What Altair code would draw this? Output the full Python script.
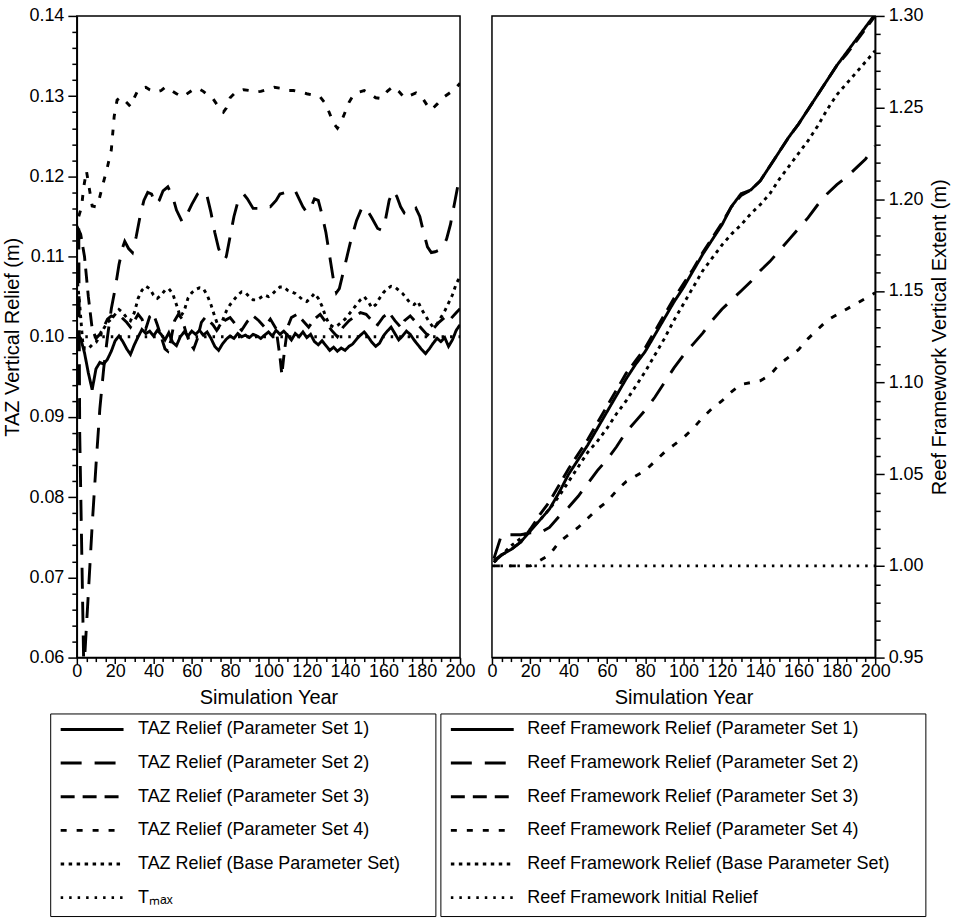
import altair as alt
import pandas as pd

FONT = "Liberation Sans"

# ---------------- LEFT PANEL: TAZ vertical relief ----------------
taz_names = [
    "TAZ Relief (Parameter Set 1)",
    "TAZ Relief (Parameter Set 2)",
    "TAZ Relief (Parameter Set 3)",
    "TAZ Relief (Parameter Set 4)",
    "TAZ Relief (Base Parameter Set)\u2800\u2800",
    "T\u2098\u2090\u2093",
]

taz1_years = list(range(0, 201, 2))
taz1_vals = [
    0.1003, 0.0998, 0.0980, 0.0955, 0.0934, 0.0960, 0.0968, 0.0966, 0.0972, 0.0982,
    0.0995, 0.1001, 0.0994, 0.0985, 0.0978, 0.0990, 0.1000, 0.1009, 0.1004, 0.1007,
    0.1001, 0.1008, 0.1003, 0.0996, 0.1005, 0.0993, 0.0989, 0.1000, 0.1006, 0.1001,
    0.1007, 0.1003, 0.1008, 0.1002, 0.1006, 0.0998, 0.0988, 0.0983, 0.0991, 0.0997,
    0.1001, 0.0998, 0.1004, 0.1000, 0.1002, 0.0999, 0.1003, 0.1001, 0.0998, 0.1002,
    0.1006, 0.1001, 0.1008, 0.1003, 0.1007, 0.1002, 0.0996, 0.1004, 0.1000, 0.1006,
    0.0999, 0.1003, 0.0994, 0.0990, 0.0995, 0.0989, 0.0983, 0.0987, 0.0982, 0.0986,
    0.0983, 0.0988, 0.0991, 0.0997, 0.1002, 0.1006, 0.1000, 0.0993, 0.0988, 0.0992,
    0.1001, 0.1007, 0.1012, 0.1004, 0.0996, 0.1001, 0.1007, 0.1003, 0.0996, 0.0990,
    0.0984, 0.0979, 0.0985, 0.0992, 0.0998, 0.0994, 0.0999, 0.0988, 0.0996, 0.1008,
    0.1015,
]

taz2_years = [
    1, 1.5, 3.7, 4.2, 6, 8, 10, 12, 14, 16,
    18, 20, 22, 24, 25, 27, 29, 31, 33, 35,
    37, 39, 41, 43, 45, 47.5, 50, 52, 55, 57,
    60, 63, 66, 68, 70, 72, 74, 76, 77, 78,
    80, 82, 84, 87, 89, 92, 95, 98, 101, 104,
    106, 109, 112, 114, 116, 118, 120, 122, 124, 126,
    128, 130, 132, 134, 135.5, 137, 139, 141, 143, 146,
    149, 151, 154, 157, 159, 161, 163, 165, 167, 169,
    171, 174, 177, 179, 181, 183, 185, 187, 189, 191,
    193, 195, 197, 199, 200,
]
taz2_vals = [
    0.1135, 0.0880, 0.0575, 0.0605, 0.0680, 0.0765, 0.0840, 0.0910, 0.0960, 0.1000,
    0.1035, 0.1060, 0.1090, 0.1112, 0.1119, 0.1110, 0.1105, 0.1125, 0.1150, 0.1170,
    0.1180, 0.1178, 0.1165, 0.1170, 0.1182, 0.1187, 0.1175, 0.1158, 0.1143, 0.1150,
    0.1165, 0.1178, 0.1182, 0.1175, 0.1155, 0.1130, 0.1110, 0.1098, 0.1096, 0.1100,
    0.1125, 0.1150, 0.1168, 0.1178, 0.1172, 0.1160, 0.1160, 0.1163, 0.1162, 0.1170,
    0.1178, 0.1180, 0.1183, 0.1182, 0.1172, 0.1162, 0.1155, 0.1160, 0.1172, 0.1170,
    0.1152, 0.1130, 0.1100, 0.1070, 0.1055, 0.1060, 0.1080, 0.1100, 0.1120, 0.1145,
    0.1162, 0.1160, 0.1148, 0.1135, 0.1133, 0.1145, 0.1170, 0.1182, 0.1175, 0.1162,
    0.1154, 0.1152, 0.1160, 0.1150, 0.1130, 0.1112, 0.1105, 0.1106, 0.1108, 0.1112,
    0.1122, 0.1140, 0.1165, 0.1190, 0.1200,
]

taz3_years = [
    0, 2, 4, 6, 8, 10, 12, 14, 16, 18,
    20, 23, 26, 28, 30, 32, 34, 36, 38, 40,
    42, 44, 46, 47.5, 49, 51, 53, 55, 57, 59,
    61, 63, 65, 67, 69, 71, 73, 75, 77, 80,
    83, 86, 89, 92, 95, 98, 101, 104, 106, 107,
    108, 110, 112, 115, 118, 121, 124, 127, 130, 133,
    136, 139, 142, 145, 148, 151, 154, 157, 160, 163,
    166, 169, 171, 174, 177, 180, 183, 186, 189, 192,
    195, 198, 200,
]
taz3_vals = [
    0.1138, 0.1128, 0.1100, 0.1050, 0.1010, 0.0998, 0.1003, 0.1012, 0.1022, 0.1026,
    0.1024, 0.1025, 0.1018, 0.1012, 0.1020, 0.1028, 0.1022, 0.1010, 0.1025, 0.1028,
    0.1015, 0.1000, 0.0985, 0.0982, 0.0995, 0.1020, 0.1028, 0.1022, 0.1005, 0.0992,
    0.0985, 0.0998, 0.1018, 0.1024, 0.1020, 0.1015, 0.1008, 0.1015, 0.1020, 0.1024,
    0.1015, 0.1008, 0.1019, 0.1026, 0.1020, 0.1012, 0.1022, 0.1010, 0.0975, 0.0953,
    0.0975, 0.1012, 0.1024, 0.1028, 0.1020, 0.1012, 0.1022, 0.1028, 0.1018, 0.1008,
    0.1000, 0.1012, 0.1020, 0.1025, 0.1030, 0.1028, 0.1020, 0.1015, 0.1025, 0.1030,
    0.1020, 0.1012, 0.1020, 0.1026, 0.1018, 0.1010, 0.1002, 0.1010, 0.1018, 0.1024,
    0.1022, 0.1030, 0.1035,
]

taz4_years = [
    1, 2.5, 3.5, 5, 6.5, 8, 10, 11.5, 13.5, 16,
    18, 19.5, 21, 23, 26, 28, 30, 32, 34, 36,
    38, 41, 44, 46, 48, 50, 52, 55, 57, 60,
    63, 66, 69, 71, 73, 75, 76.5, 78, 80, 83,
    87, 90, 93, 96, 100, 103, 106, 110, 113, 117,
    120, 124, 127, 130, 132, 134, 136, 138, 140, 142,
    144, 147, 150, 153, 156, 159, 162, 165, 168, 171,
    174, 177, 180, 183, 185, 188, 191, 194, 197, 200,
]
taz4_vals = [
    0.1150, 0.1162, 0.1185, 0.1207, 0.1185, 0.1163, 0.1162, 0.1170, 0.1189, 0.1212,
    0.1233, 0.1275, 0.1295, 0.1299, 0.1292, 0.1287, 0.1298, 0.1308, 0.1310, 0.1311,
    0.1308, 0.1305, 0.1307, 0.1311, 0.1310, 0.1306, 0.1303, 0.1299, 0.1302, 0.1307,
    0.1310, 0.1306, 0.1300, 0.1297, 0.1290, 0.1283, 0.1280, 0.1285, 0.1298, 0.1305,
    0.1308, 0.1307, 0.1305, 0.1306, 0.1309, 0.1311, 0.1310, 0.1307, 0.1307, 0.1305,
    0.1303, 0.1301, 0.1299, 0.1290, 0.1278, 0.1266, 0.1260, 0.1268, 0.1280, 0.1292,
    0.1300, 0.1305, 0.1307, 0.1303, 0.1298, 0.1297, 0.1306, 0.1312, 0.1306, 0.1298,
    0.1301, 0.1304, 0.1299, 0.1288, 0.1283, 0.1290, 0.1298, 0.1303, 0.1308, 0.1316,
]

tazb_years = [0, 1.5, 3, 4] + list(range(6, 201, 2))
tazb_vals = [
    0.1077, 0.1040, 0.0995, 0.0985,
    0.0985, 0.0990, 0.0993, 0.1000, 0.1010, 0.1018, 0.1022, 0.1028, 0.1034, 0.1030,
    0.1024, 0.1020, 0.1030, 0.1048, 0.1058, 0.1063, 0.1060, 0.1052, 0.1048, 0.1052,
    0.1058, 0.1060, 0.1054, 0.1040, 0.1025, 0.1032, 0.1048, 0.1055, 0.1059, 0.1061,
    0.1060, 0.1052, 0.1040, 0.1025, 0.1012, 0.1020, 0.1032, 0.1040, 0.1046, 0.1052,
    0.1056, 0.1055, 0.1050, 0.1046, 0.1046, 0.1049, 0.1052, 0.1050, 0.1053, 0.1058,
    0.1062, 0.1062, 0.1058, 0.1056, 0.1054, 0.1050, 0.1046, 0.1044, 0.1048, 0.1054,
    0.1048, 0.1038, 0.1024, 0.1015, 0.1012, 0.1014, 0.1018, 0.1022, 0.1028, 0.1034,
    0.1040, 0.1046, 0.1050, 0.1044, 0.1036, 0.1040, 0.1048, 0.1055, 0.1060, 0.1063,
    0.1062, 0.1058, 0.1054, 0.1048, 0.1042, 0.1040, 0.1044, 0.1034, 0.1026, 0.1018,
    0.1012, 0.1016, 0.1024, 0.1032, 0.1042, 0.1052, 0.1066, 0.1075,
]

tmax_years = [0, 200]
tmax_vals = [0.100, 0.100]

# ---------------- RIGHT PANEL: reef framework vertical extent ----------------
reef_names = [
    "Reef Framework Relief (Parameter Set 1)",
    "Reef Framework Relief (Parameter Set 2)",
    "Reef Framework Relief (Parameter Set 3)",
    "Reef Framework Relief (Parameter Set 4)",
    "Reef Framework Relief (Base Parameter Set)\u2800\u2800",
    "Reef Framework Initial Relief",
]

reef_years = [1] + list(range(5, 201, 5))
reef1_vals = [
    1.002, 1.006, 1.009, 1.013, 1.019, 1.025, 1.031, 1.040, 1.050, 1.058,
    1.066, 1.075, 1.084, 1.093, 1.102, 1.110, 1.117, 1.126, 1.135, 1.144,
    1.152, 1.161, 1.170, 1.178, 1.186, 1.196, 1.203, 1.205, 1.210, 1.218,
    1.226, 1.234, 1.241, 1.249, 1.257, 1.265, 1.273, 1.280, 1.287, 1.294,
    1.301,
]
reef2_vals = [
    1.004, 1.017, 1.017, 1.017, 1.018, 1.018, 1.021, 1.027, 1.032, 1.038,
    1.045, 1.052, 1.058, 1.065, 1.073, 1.079, 1.085, 1.092, 1.100, 1.108,
    1.115, 1.121, 1.127, 1.134, 1.140, 1.145, 1.150, 1.155, 1.161, 1.166,
    1.172, 1.178, 1.184, 1.190, 1.197, 1.203, 1.208, 1.212, 1.217, 1.222,
    1.229,
]
reef3_vals = [
    1.003, 1.006, 1.009, 1.013, 1.020, 1.028, 1.035, 1.044, 1.053, 1.061,
    1.069, 1.078, 1.087, 1.096, 1.105, 1.112, 1.119, 1.128, 1.137, 1.146,
    1.154, 1.162, 1.171, 1.179, 1.187, 1.196, 1.202, 1.205, 1.210, 1.218,
    1.226, 1.234, 1.241, 1.249, 1.257, 1.265, 1.273, 1.279, 1.286, 1.293,
    1.300,
]
reef4_vals = [
    1.000, 1.000, 1.000, 1.000, 1.000, 1.003, 1.006, 1.013, 1.017, 1.021,
    1.026, 1.031, 1.035, 1.041, 1.046, 1.049, 1.052, 1.057, 1.062, 1.066,
    1.070, 1.075, 1.081, 1.086, 1.090, 1.095, 1.099, 1.100, 1.101, 1.104,
    1.110, 1.114, 1.118, 1.124, 1.129, 1.134, 1.137, 1.140, 1.143, 1.146,
    1.149,
]
reefb_vals = [
    1.002, 1.006, 1.011, 1.015, 1.020, 1.025, 1.031, 1.038, 1.046, 1.054,
    1.062, 1.068, 1.075, 1.083, 1.090, 1.098, 1.106, 1.115, 1.124, 1.134,
    1.143, 1.152, 1.161, 1.168, 1.175, 1.181, 1.186, 1.192, 1.197, 1.203,
    1.211, 1.218, 1.225, 1.232, 1.240, 1.249, 1.257, 1.263, 1.269, 1.275,
    1.281,
]
init_years = [0, 200]
init_vals = [1.000, 1.000]

# ---------------- ticks ----------------
x_major = [0, 20, 40, 60, 80, 100, 120, 140, 160, 180, 200]
x_minor = [v for v in range(0, 201, 5) if v % 20]
taz_major = [0.06, 0.07, 0.08, 0.09, 0.10, 0.11, 0.12, 0.13, 0.14]
taz_minor = [round(0.06 + 0.002 * i, 3) for i in range(41) if i % 5]
reef_major = [0.95, 1.00, 1.05, 1.10, 1.15, 1.20, 1.25, 1.30]
reef_minor = [round(0.95 + 0.01 * i, 2) for i in range(36) if i % 5]

# line styles (same order as the series names)
dash_styles = [[1, 0], [21, 13], [14, 8], [6, 10], [3.5, 4.5], [2.5, 6]]
width_styles = [2.9, 2.9, 2.9, 2.9, 3.8, 2.0]


def long_df(names, series):
    rows = []
    for name, (xs, ys) in zip(names, series):
        assert len(xs) == len(ys), name
        rows += [{"year": x, "value": y, "series": name} for x, y in zip(xs, ys)]
    return pd.DataFrame(rows)


taz_df = long_df(taz_names, [
    (taz1_years, taz1_vals), (taz2_years, taz2_vals), (taz3_years, taz3_vals),
    (taz4_years, taz4_vals), (tazb_years, tazb_vals), (tmax_years, tmax_vals),
])
reef_df = long_df(reef_names, [
    (reef_years, reef1_vals), (reef_years, reef2_vals), (reef_years, reef3_vals),
    (reef_years, reef4_vals), (reef_years, reefb_vals), (init_years, init_vals),
])

W, H = 384, 643


def panel(df, names, ydom, ymaj, ymin, yorient, ytitle, lx, ly, loff, tbase):
    xscale = alt.Scale(domain=[0, 200], nice=False, zero=False)
    yscale = alt.Scale(domain=ydom, nice=False, zero=False)
    leg = alt.Legend(
        orient="none", legendX=lx, legendY=ly, title=None, direction="vertical",
        symbolType="stroke", symbolSize=3969, symbolStrokeColor="black",
        clipHeight=14, rowPadding=15.7, padding=9, labelOffset=loff,
        labelFont=FONT, labelFontSize=18, labelColor="black", labelLimit=800,
        strokeColor="black",
    )
    lines = alt.Chart(df).mark_line(color="black", clip=True).encode(
        x=alt.X("year:Q", scale=xscale, axis=alt.Axis(
            orient="bottom", values=x_major, format="d", tickSize=6, labelPadding=-1,
            labelFlush=False, labelOverlap=False, title="Simulation Year", titlePadding=7)),
        y=alt.Y("value:Q", scale=yscale, axis=alt.Axis(
            orient=yorient, values=ymaj, format=".2f", tickSize=9, labelPadding=4,
            labelFlush=False, labelOverlap=False, title=ytitle, titlePadding=6,
            titleAngle=270, titleBaseline=tbase)),
        strokeDash=alt.StrokeDash("series:N", scale=alt.Scale(domain=names, range=dash_styles), legend=leg),
        strokeWidth=alt.StrokeWidth("series:N", scale=alt.Scale(domain=names, range=width_styles), legend=leg),
    )
    minor = alt.Chart(df).mark_point(opacity=0, size=1).encode(
        x=alt.X("year:Q", scale=xscale, axis=alt.Axis(
            orient="bottom", values=x_minor, tickSize=4, labels=False, domain=False, title=None)),
        y=alt.Y("value:Q", scale=yscale, axis=alt.Axis(
            orient=yorient, values=ymin, tickSize=5, labels=False, domain=False, title=None)),
    )
    return alt.layer(lines, minor).resolve_axis(x="independent", y="independent").properties(width=W, height=H)


left = panel(taz_df, taz_names, [0.06, 0.14], taz_major, taz_minor, "left",
             "TAZ Vertical Relief (m)", -26.7, 699, 13, "bottom")
right = panel(reef_df, reef_names, [0.95, 1.30], reef_major, reef_minor, "right",
              "Reef Framework Vertical Extent (m)", -51.7, 699, 12, "top")

chart = alt.hconcat(left, right, spacing=32, bounds="flush").resolve_scale(
    x="independent", y="independent", strokeDash="independent", strokeWidth="independent"
).resolve_legend(
    strokeDash="independent", strokeWidth="independent"
).properties(
    padding={"left": 2, "top": 5, "right": 5, "bottom": 0},
    background="white",
).configure_axis(
    labelFont=FONT, labelFontSize=18, labelColor="black",
    titleFont=FONT, titleFontSize=20, titleFontWeight="normal", titleColor="black",
    domainColor="black", domainWidth=1.5, tickColor="black", tickWidth=1.5, grid=False,
).configure_view(stroke="black", strokeWidth=1.5)

chart.save("out.html", embed_options={"renderer": "svg", "actions": False})
